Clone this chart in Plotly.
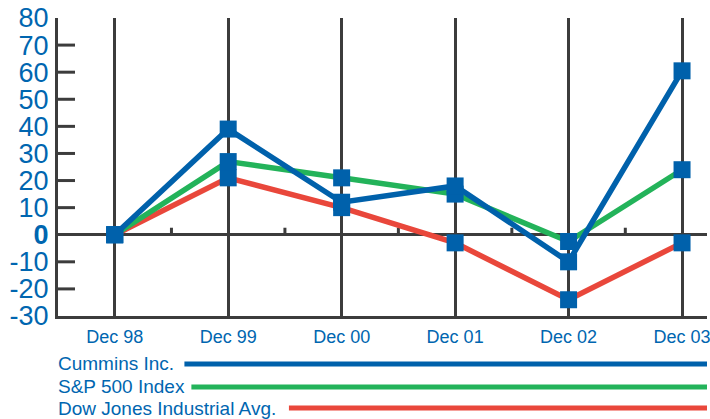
import plotly.graph_objects as go

categories = ["Dec 98", "Dec 99", "Dec 00", "Dec 01", "Dec 02", "Dec 03"]
series_names = ["Cummins Inc.", "S&P 500 Index", "Dow Jones Industrial Avg."]
cummins = [0, 39, 12, 18, -10, 60.5]
sp500 = [0, 27, 21, 15, -2.5, 24]
dow = [0, 21, 10, -3, -24, -3]
y_ticks = [-30, -20, -10, 0, 10, 20, 30, 40, 50, 60, 70, 80]

BLUE = "#0061AB"
GREEN = "#23B35A"
RED = "#E9473B"
TXT = "#0066B0"
AX = "#3C3C3C"
FONT = "Liberation Sans, Arial, sans-serif"

x = list(range(len(categories)))
fig = go.Figure()

for vals, col in [(dow, RED), (sp500, GREEN), (cummins, BLUE)]:
    fig.add_trace(go.Scatter(x=x, y=vals, mode="lines",
                             line=dict(color=col, width=5.5), showlegend=False,
                             hoverinfo="skip"))
for vals in [dow, sp500, cummins]:
    fig.add_trace(go.Scatter(x=x, y=vals, mode="markers",
                             marker=dict(symbol="square", size=17, color=BLUE,
                                         line=dict(width=0)),
                             showlegend=False))

ticktext = [("<b>%d</b>" % v) if v == 0 else str(v) for v in y_ticks]

fig.update_layout(
    width=710, height=419,
    margin=dict(l=58, r=0, t=18, b=103),
    plot_bgcolor="white", paper_bgcolor="white",
    font=dict(family=FONT, color=TXT),
    xaxis=dict(range=[-0.5, 5.22], tickvals=x, ticktext=categories,
               showgrid=True, gridcolor=AX, gridwidth=3,
               showline=True, linecolor=AX, linewidth=3,
               ticks="", tickfont=dict(size=18, color=TXT),
               ticklabeloverflow="allow",
               zeroline=False, fixedrange=True, ticklabelstandoff=2),
    yaxis=dict(range=[-30, 80], tickvals=y_ticks, ticktext=ticktext,
               showgrid=False, showline=True, linecolor=AX, linewidth=3,
               zeroline=True, zerolinecolor=AX, zerolinewidth=3,
               ticks="", tickfont=dict(size=27, color=TXT),
               ticklabelstandoff=1),
)

shapes = []
# y-axis tick marks (inside)
for v in y_ticks:
    if v in (y_ticks[0], y_ticks[-1], 0):
        continue
    shapes.append(dict(type="line", xref="x", yref="y", xsizemode="pixel",
                       xanchor=-0.5, x0=0, x1=17, y0=v, y1=v,
                       line=dict(color=AX, width=3), layer="below"))
# minor ticks on zero line between categories
for i in range(len(categories) - 1):
    shapes.append(dict(type="line", xref="x", yref="y", ysizemode="pixel",
                       yanchor=0, y0=0, y1=7, x0=i + 0.5, x1=i + 0.5,
                       line=dict(color=AX, width=3), layer="below"))

# legend rows
leg_y = [-0.161, -0.238, -0.309]
leg_start = [(185 - 58) / 652, (192 - 58) / 652, (290 - 58) / 652]
leg_cols = [BLUE, GREEN, RED]
for name, yy, xs, col in zip(series_names, leg_y, leg_start, leg_cols):
    fig.add_annotation(text=name, xref="paper", yref="paper", x=0, y=yy,
                       xanchor="left", yanchor="middle", showarrow=False,
                       xshift=-2,
                       font=dict(size=19, color=TXT, family=FONT))
    shapes.append(dict(type="line", xref="paper", yref="paper", x0=xs, x1=1,
                       y0=yy, y1=yy, line=dict(color=col, width=5)))

fig.update_layout(shapes=shapes)
fig.write_html("out.html")
